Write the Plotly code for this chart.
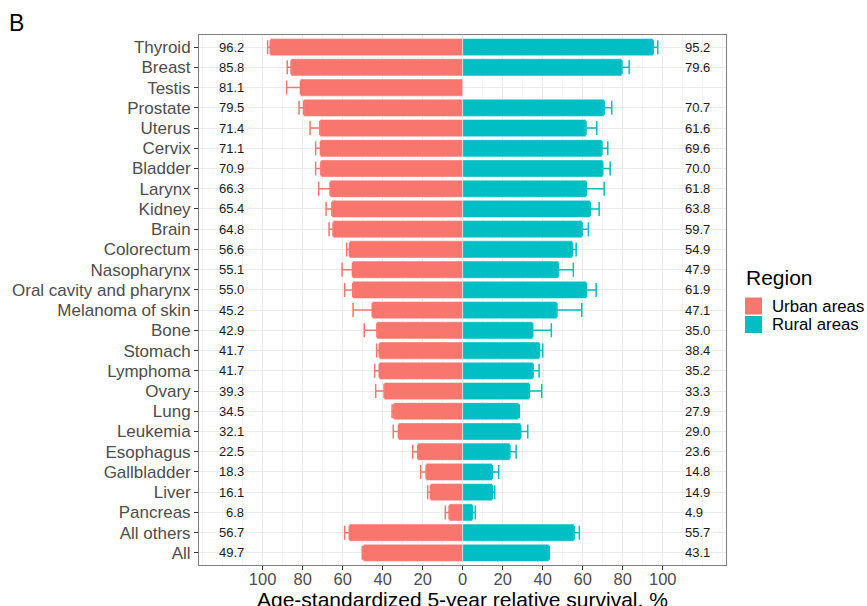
import plotly.graph_objects as go

# Cancer sites, top to bottom
sites = ["Thyroid", "Breast", "Testis", "Prostate", "Uterus", "Cervix", "Bladder",
         "Larynx", "Kidney", "Brain", "Colorectum", "Nasopharynx",
         "Oral cavity and pharynx", "Melanoma of skin", "Bone", "Stomach",
         "Lymphoma", "Ovary", "Lung", "Leukemia", "Esophagus", "Gallbladder",
         "Liver", "Pancreas", "All others", "All"]

# Age-standardized 5-year relative survival (%)
urban = [96.2, 85.8, 81.1, 79.5, 71.4, 71.1, 70.9, 66.3, 65.4, 64.8, 56.6, 55.1,
         55.0, 45.2, 42.9, 41.7, 41.7, 39.3, 34.5, 32.1, 22.5, 18.3, 16.1, 6.8,
         56.7, 49.7]
rural = [95.2, 79.6, None, 70.7, 61.6, 69.6, 70.0, 61.8, 63.8, 59.7, 54.9, 47.9,
         61.9, 47.1, 35.0, 38.4, 35.2, 33.3, 27.9, 29.0, 23.6, 14.8, 14.9, 4.9,
         55.7, 43.1]

# Upper confidence limits
urban_upper = [97.5, 87.7, 88.0, 81.8, 76.3, 73.5, 73.5, 72.0, 68.3, 66.8, 58.0, 60.3,
               59.0, 54.8, 49.2, 43.0, 44.0, 43.5, 35.3, 34.7, 25.0, 21.0, 17.5, 8.7,
               59.0, 50.2]
rural_upper = [97.5, 83.2, None, 74.5, 67.0, 72.5, 73.7, 70.7, 68.2, 62.8, 56.7, 55.3,
               66.7, 59.5, 44.3, 40.0, 38.2, 39.5, 28.3, 32.5, 26.7, 18.0, 16.0, 6.3,
               58.3, 43.3]

region_names = ["Urban areas", "Rural areas"]
region_colors = ["#F8766D", "#00BFC4"]

urban_err = [u2 - u for u, u2 in zip(urban, urban_upper)]
rural_err = [(r2 - r) if r is not None else None for r, r2 in zip(rural, rural_upper)]

# Figure geometry (pixels)
W, H = 867, 606
ML, MR, MT, MB = 199, 141, 35, 41
PW, PH = W - ML - MR, H - MT - MB


def px(x):
    return (x - ML) / PW


def py(y):
    return (MT + PH - y) / PH


fig = go.Figure()

fig.add_trace(go.Bar(
    y=sites, x=[-v for v in urban], orientation="h", name=region_names[0],
    marker=dict(color=region_colors[0], line=dict(color="rgba(255,255,255,0.6)", width=0.8)),
    width=0.85,
    error_x=dict(type="data", symmetric=False, array=[0] * len(urban),
                 arrayminus=urban_err, color=region_colors[0], thickness=1.5, width=7),
    showlegend=False,
))
fig.add_trace(go.Bar(
    y=sites, x=rural, orientation="h", name=region_names[1],
    marker=dict(color=region_colors[1], line=dict(color="rgba(255,255,255,0.6)", width=0.8)),
    width=0.85,
    error_x=dict(type="data", symmetric=False, array=rural_err,
                 arrayminus=[0] * len(rural), color=region_colors[1], thickness=1.5, width=7),
    showlegend=False,
))

annotations = []
# value labels at both sides of the panel
for s, u, r in zip(sites, urban, rural):
    annotations.append(dict(x=-108.5, y=s, xref="x", yref="y", text=f"{u:.1f}",
                            showarrow=False, xanchor="right", yanchor="middle",
                            font=dict(size=13, color="#1a1a1a")))
    if r is not None:
        annotations.append(dict(x=110, y=s, xref="x", yref="y", text=f"{r:.1f}",
                                showarrow=False, xanchor="left", yanchor="middle",
                                font=dict(size=13, color="#1a1a1a")))

# axis title
annotations.append(dict(x=0.5, y=py(599), xref="paper", yref="paper",
                        text="Age-standardized 5-year relative survival, %",
                        showarrow=False, xanchor="center", yanchor="middle",
                        font=dict(size=21, color="#000000")))
# panel letter
annotations.append(dict(x=px(7), y=py(23), xref="paper", yref="paper", text="B",
                        showarrow=False, xanchor="left", yanchor="middle",
                        font=dict(size=23, color="#000000")))

# legend
annotations.append(dict(x=px(744), y=py(277), xref="paper", yref="paper", text="Region",
                        showarrow=False, xanchor="left", yanchor="middle",
                        font=dict(size=21, color="#000000")))
shapes = []
for i, (name, col) in enumerate(zip(region_names, region_colors)):
    top = 297.5 + i * 18.5
    shapes.append(dict(type="rect", xref="paper", yref="paper",
                       x0=px(745), x1=px(762), y0=py(top), y1=py(top + 17),
                       fillcolor=col, line=dict(width=0)))
    annotations.append(dict(x=px(770), y=py(top + 8.5), xref="paper", yref="paper",
                            text=name, showarrow=False, xanchor="left", yanchor="middle",
                            font=dict(size=16.8, color="#000000")))

tick_vals = list(range(-100, 101, 20))
fig.update_layout(
    width=W, height=H,
    margin=dict(l=ML, r=MR, t=MT, b=MB, pad=0),
    paper_bgcolor="white", plot_bgcolor="white",
    barmode="overlay",
    font=dict(family="Liberation Sans, Arial, sans-serif"),
    annotations=annotations,
    shapes=shapes,
    xaxis=dict(
        range=[-131.8, 131.6], tickvals=tick_vals,
        ticktext=[str(abs(v)) for v in tick_vals],
        showgrid=True, gridcolor="#EBEBEB", gridwidth=1.1,
        minor=dict(dtick=10, tick0=0, showgrid=True, gridcolor="#F3F3F3", gridwidth=0.6,
                   ticks=""),
        ticks="outside", ticklen=4, tickcolor="#333333", tickwidth=1,
        ticklabelstandoff=-5,
        tickfont=dict(size=16.5, color="#4D4D4D"),
        zeroline=False, showline=True, linecolor="#7F7F7F", linewidth=1, mirror=True,
    ),
    yaxis=dict(
        type="category", categoryorder="array", categoryarray=sites[::-1],
        range=[-0.6, len(sites) - 0.4],
        showgrid=True, gridcolor="#EBEBEB", gridwidth=1.1,
        ticks="outside", ticklen=4, tickcolor="#333333", tickwidth=1,
        tickfont=dict(size=17, color="#4D4D4D"),
        zeroline=False, showline=True, linecolor="#7F7F7F", linewidth=1, mirror=True,
    ),
)

fig.write_html("out.html")
